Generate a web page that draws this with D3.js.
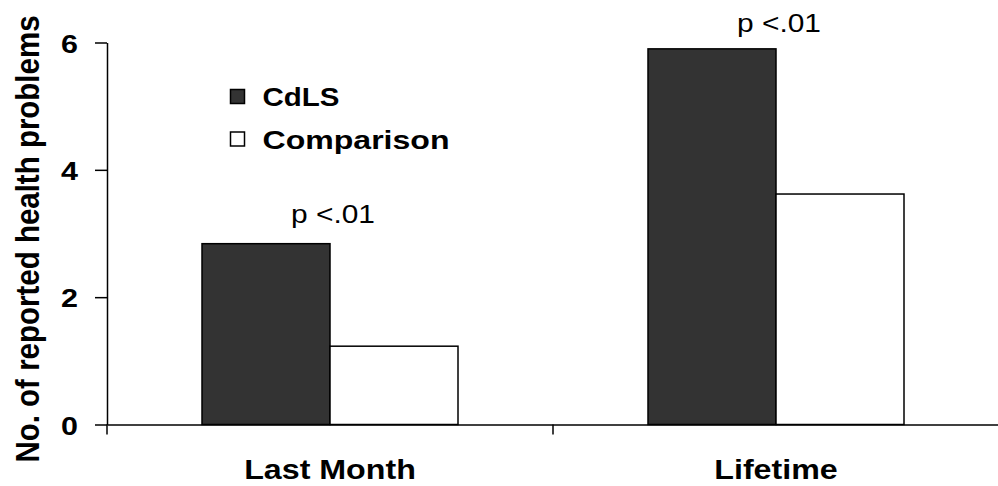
<!DOCTYPE html>
<html>
<head>
<meta charset="utf-8">
<script src="https://cdn.jsdelivr.net/npm/d3@7"></script>
<style>
  html, body { margin: 0; padding: 0; background: #fff; }
  svg { display: block; }
  text { font-family: "Liberation Sans", Arial, sans-serif; fill: #000; }
</style>
</head>
<body>
<svg id="chart" width="998" height="486"></svg>
<script>
// ---- data ----
const categories = ["Last Month", "Lifetime"];
const seriesNames = ["CdLS", "Comparison"];
const cdlsValues = [2.84, 5.90];
const comparisonValues = [1.23, 3.62];
const pLabels = ["p <.01", "p <.01"];
const yTicks = [0, 2, 4, 6];
const yTitle = "No. of reported health problems";

// ---- layout ----
const plotLeft = 107, plotRight = 999, plotTop = 42.5, plotBottom = 424.5;
const SX = 1.15; // horizontal stretch of glyphs in the reference
const colors = { "CdLS": "#333333", "Comparison": "#ffffff" };

const svg = d3.select("#chart");

const y = d3.scaleLinear().domain([0, 6]).range([plotBottom, plotTop]);
const x0 = d3.scaleBand().domain(categories).range([plotLeft, plotRight]).padding(0);
const groupW = 256;
const x1 = d3.scaleBand().domain(seriesNames)
  .range([(x0.bandwidth() - groupW) / 2, (x0.bandwidth() + groupW) / 2]).padding(0);

const rows = categories.map((c, i) => ({
  cat: c,
  values: [
    { s: "CdLS", v: cdlsValues[i] },
    { s: "Comparison", v: comparisonValues[i] }
  ],
  p: pLabels[i]
}));

// bars
const groups = svg.append("g").selectAll("g").data(rows).join("g")
  .attr("transform", d => `translate(${x0(d.cat)},0)`);
groups.selectAll("rect").data(d => d.values).join("rect")
  .attr("x", d => x1(d.s))
  .attr("width", x1.bandwidth())
  .attr("y", d => y(d.v))
  .attr("height", d => y(0) - y(d.v))
  .attr("fill", d => colors[d.s])
  .attr("stroke", "#000")
  .attr("stroke-width", 1.5);

// p labels
const pOffsets = [21, 17];
groups.append("text")
  .attr("transform", (d, i) => `translate(${x0.bandwidth() / 2 + 3},${y(d3.max(d.values, v => v.v)) - pOffsets[i]}) scale(${SX},1)`)
  .attr("text-anchor", "middle")
  .style("font-size", "26px")
  .text(d => d.p);

// y axis
const yAxis = svg.append("g")
  .attr("transform", `translate(${plotLeft},0)`)
  .call(d3.axisLeft(y).tickValues(yTicks).tickFormat(d3.format("d")).tickSize(12).tickSizeOuter(0));
yAxis.selectAll("path, line").attr("stroke", "#000").attr("stroke-width", 1.5);
yAxis.selectAll("text")
  .attr("x", -29 / SX)
  .attr("dy", "0.36em")
  .attr("transform", `scale(${SX},1)`)
  .style("font-size", "26.5px")
  .style("font-weight", "bold")
  .style("font-family", "'Liberation Sans', Arial, sans-serif")
  .attr("fill", "#000");

// x axis
const xAxis = svg.append("g")
  .attr("transform", `translate(0,${plotBottom})`)
  .call(d3.axisBottom(x0).tickSize(0).tickSizeOuter(0).tickPadding(0));
xAxis.select(".domain").attr("stroke", "#000").attr("stroke-width", 1.5);
xAxis.selectAll("text")
  .attr("y", 55)
  .attr("dy", 0)
  .attr("transform", `scale(${SX},1)`)
  .style("font-size", "28px")
  .style("font-weight", "bold")
  .style("font-family", "'Liberation Sans', Arial, sans-serif")
  .attr("fill", "#000");
// category boundary tick marks
const bounds = categories.map(c => x0(c)).concat([x0(categories[categories.length - 1]) + x0.bandwidth()]);
xAxis.selectAll("line.bound").data(bounds).join("line")
  .attr("class", "bound")
  .attr("x1", d => d).attr("x2", d => d)
  .attr("y1", 0).attr("y2", 10)
  .attr("stroke", "#000").attr("stroke-width", 1.5);

// y title
svg.append("text")
  .attr("transform", `translate(38.5,${(13 + 465) / 2}) rotate(-90) scale(1,${SX})`)
  .attr("text-anchor", "middle")
  .style("font-size", "29.5px")
  .style("font-weight", "bold")
  .text(yTitle);

// legend
const legend = svg.append("g");
const legRows = seriesNames.map((s, i) => ({ s, i }));
const legWidths = [77, 187];
legend.selectAll("rect").data(legRows).join("rect")
  .attr("x", 230.5)
  .attr("y", d => 89.5 + d.i * 42.5)
  .attr("width", 14)
  .attr("height", 14)
  .attr("fill", d => colors[d.s])
  .attr("stroke", "#000")
  .attr("stroke-width", 1.5);
legend.selectAll("text").data(legRows).join("text")
  .attr("transform", d => `translate(262.5,${106 + d.i * 42.5}) scale(${SX},1)`)
  .attr("textLength", d => legWidths[d.i] / SX)
  .attr("lengthAdjust", "spacingAndGlyphs")
  .style("font-size", "26px")
  .style("font-weight", "bold")
  .text(d => d.s);
</script>
</body>
</html>
